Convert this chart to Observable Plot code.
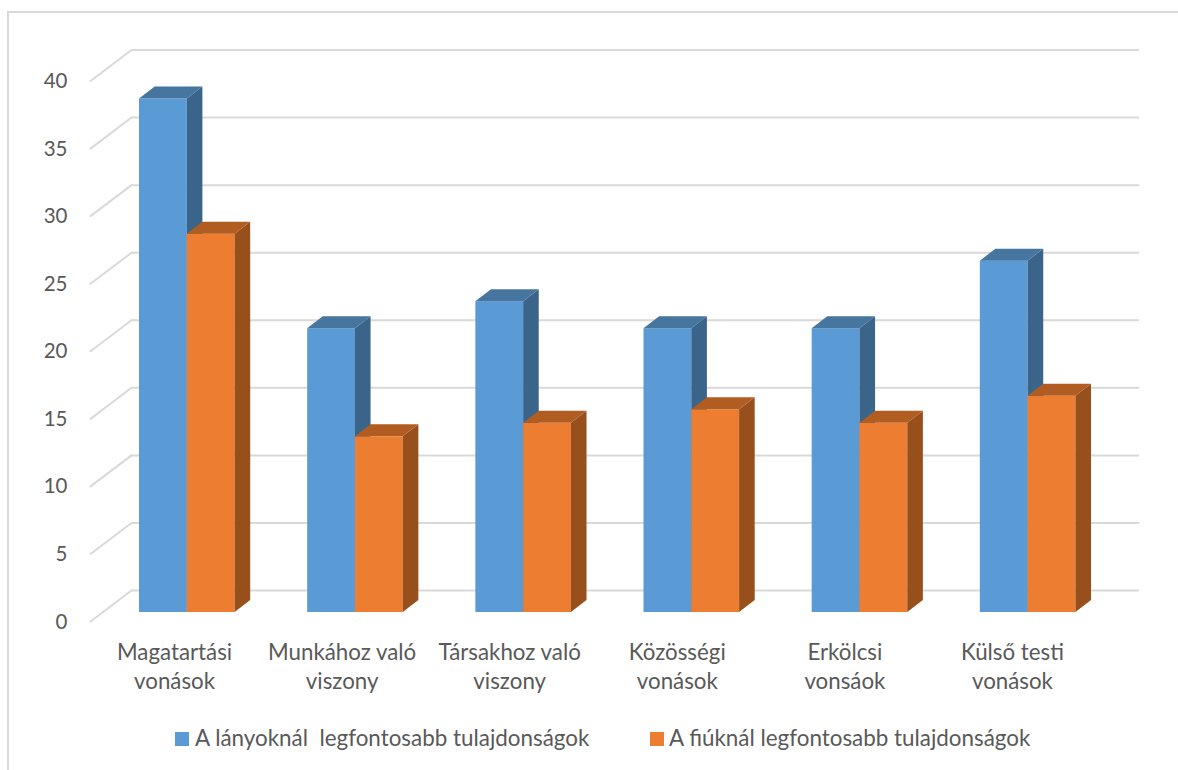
<!DOCTYPE html>
<html lang="hu">
<head>
<meta charset="utf-8">
<script src="https://cdn.jsdelivr.net/npm/d3@7"></script>
<script src="https://cdn.jsdelivr.net/npm/@observablehq/plot@0.6"></script>
<style>
html,body{margin:0;padding:0;background:#fff;width:1178px;height:770px;overflow:hidden;position:relative;font-family:Lato,sans-serif}
#frame{position:absolute;left:7px;top:11px;width:1300px;height:900px;border:2px solid #d9d9d9;box-sizing:border-box}
#chart{position:absolute;left:0;top:0}
#chart svg{display:block;background:transparent}
#legend{position:absolute;left:0;top:724px;width:1178px;height:28px;color:#595959;font-size:22.4px;line-height:28px;white-space:pre}
#legend span{position:absolute;top:0}
#legend i{position:absolute;top:8px;width:14px;height:14px}
</style>
</head>
<body>
<div id="frame"></div>
<div id="chart"></div>
<div id="legend"></div>
<script>
const categories = ["Magatartási\nvonások","Munkához való\nviszony","Társakhoz való\nviszony","Közösségi\nvonások","Erkölcsi\nvonsáok","Külső testi\nvonások"];
const girls = [38,21,23,21,21,26];
const boys = [28,13,14,15,14,16];
const seriesNames = ["A lányoknál  legfontosabb tulajdonságok","A fiúknál legfontosabb tulajdonságok"];
const yTicks = [0,5,10,15,20,25,30,35,40];

const barW = 47.8/168.17, gap = 8/168.17, depthX = 15.6/168.17, depthY = 12/13.5;
const diagX = -41/168.17, diagY = -31/13.5;
const frontDy = 22;

const palette = [
  {front:"#5B9BD5", side:"#3A6489", top:"#4675A0"},
  {front:"#ED7D31", side:"#97501C", top:"#B15D22"}
];

const bars = [];
[girls,boys].forEach((vals,s)=>vals.forEach((v,i)=>{
  bars.push({id:`${s}-${i}`,s,i,v,x0:i+gap+s*barW,x1:i+gap+(s+1)*barW});
}));
const side = bars.flatMap(b=>[
  {id:b.id,s:b.s,x:b.x1,lo:0,hi:b.v},
  {id:b.id,s:b.s,x:b.x1+depthX,lo:depthY,hi:b.v+depthY}
]);
const top_ = bars.flatMap(b=>[
  {id:b.id,s:b.s,y:b.v,a:b.x0,b:b.x1},
  {id:b.id,s:b.s,y:b.v+depthY,a:b.x0+depthX,b:b.x1+depthX}
]);
const diag = yTicks.flatMap(t=>[{t,x:diagX,y:t+diagY},{t,x:0,y:t}]);

const marks = [
  Plot.ruleY(yTicks,{x1:0,x2:5.995,stroke:"#d9d9d9",strokeWidth:2}),
  Plot.line(diag,{x:"x",y:"y",z:"t",stroke:"#d9d9d9",strokeWidth:2}),
  Plot.axisY(yTicks,{anchor:"left",tickSize:0,tickPadding:64,dy:31.5,label:null,fontSize:20.5,fontFamily:"Lato",color:"#595959"}),
  Plot.text(categories,{x:(d,i)=>0.256+i*0.9965,y:0,text:d=>d,dy:74.5,lineHeight:1.3,fontSize:22.3,fontFamily:"Lato",fill:"#595959",textAnchor:"middle"})
];
[0,1].forEach(s=>{
  const b = bars.filter(d=>d.s===s), c = palette[s];
  marks.push(
    Plot.rectY(b,{x1:"x0",x2:"x1",y1:0,y2:"v",fill:c.front,dy:frontDy,inset:0}),
    Plot.area(side.filter(d=>d.s===s),{x1:"x",y1:"lo",y2:"hi",z:"id",fill:c.side,dy:frontDy}),
    Plot.area(top_.filter(d=>d.s===s),{x1:"a",x2:"b",y1:"y",z:"id",fill:c.top,dy:frontDy})
  );
});

const chart = Plot.plot({
  width:1178,height:722,
  marginLeft:131,marginRight:38,marginTop:49.5,marginBottom:132,
  x:{domain:[0,6],range:[131,1140],axis:null},
  y:{domain:[0,40],range:[590,49.5],axis:null},
  style:{background:"transparent"},
  marks
});
document.getElementById("chart").appendChild(chart);

const legend = document.getElementById("legend");
[[175,195],[650,669]].forEach(([sx,tx],k)=>{
  const sw=document.createElement("i");
  sw.style.left=sx+"px";sw.style.background=palette[k].front;
  const t=document.createElement("span");
  t.style.left=tx+"px";t.textContent=seriesNames[k];
  legend.append(sw,t);
});
</script>
</body>
</html>
